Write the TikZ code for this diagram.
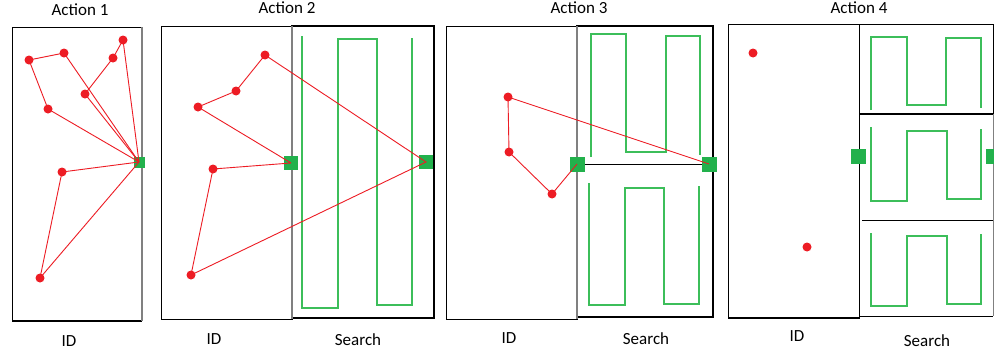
\documentclass[tikz,border=0pt]{standalone}
\usepackage{fontspec}
\setmainfont{Carlito}
\definecolor{pred}{RGB}{237,28,36}
\definecolor{pgreen}{RGB}{34,177,76}
\definecolor{lgreen}{RGB}{60,190,90}
\tikzset{
  dot/.style={circle,fill=pred,draw=none,minimum size=9pt,inner sep=0pt},
  base/.style={rectangle,fill=pgreen,draw=none,minimum size=#1,inner sep=0pt},
  base/.default=13pt,
  path/.style={draw=pred,line width=0.9pt},
  sweep/.style={draw=lgreen,line width=1.3pt},
  frame/.style={draw=black,line width=0.9pt},
  divider/.style={draw=gray,line width=1.3pt},
  lbl/.style={font=\fontsize{17}{20}\selectfont,inner sep=0pt}
}
\begin{document}
\begin{tikzpicture}[x=1pt,y=-1pt]
\useasboundingbox (0,0) rectangle (994,356);
\fill[white] (0,0) rectangle (994,356);

% ---------------- Action 1 ----------------
\node[lbl] (t1) at (80,10) {Action 1};
\draw[frame] (142,27) -- (12,27) -- (12,321);
\draw[frame,line width=1.8pt] (12,321) -- (142,321);
\draw[divider] (142,27) -- (142,321);
\node[lbl] (id1) at (69,341) {ID};
\node[base=11pt] (g1) at (139,162) {};
\node[dot] (a1) at (29,60) {};
\node[dot] (a2) at (64,53) {};
\node[dot] (a3) at (123,40) {};
\node[dot] (a4) at (113,58) {};
\node[dot] (a5) at (85,94) {};
\node[dot] (a6) at (48,109) {};
\node[dot] (a7) at (62,172) {};
\node[dot] (a8) at (40,278) {};
\draw[path] (a1.center) -- (a2.center) -- (g1.center);
\draw[path] (a1.center) -- (a6.center) -- (g1.center);
\draw[path] (a3.center) -- (a4.center) -- (a5.center) -- (g1.center);
\draw[path] (a3.center) -- (g1.center);
\draw[path] (g1.center) -- (a7.center) -- (a8.center) -- (g1.center);

% ---------------- Action 2 ----------------
\node[lbl] (t2) at (287,8) {Action 2};
\draw[frame] (161,26) rectangle (292,319);
\draw[frame,line width=1.6pt] (292,26) rectangle (434,318);
\draw[divider] (292,26) -- (292,319);
\node[lbl] (id2) at (214,339) {ID};
\node[lbl] (s2) at (358,340) {Search};
\draw[sweep] (302,36) -- (302,308) -- (338,308) -- (338,39) -- (377,39)
  -- (377,305) -- (412,305) -- (412,38);
\node[base=14pt] (g2a) at (291,163) {};
\node[base=14pt] (g2b) at (426,162) {};
\node[dot] (b1) at (265,55) {};
\node[dot] (b2) at (236,91) {};
\node[dot] (b3) at (198,107) {};
\node[dot] (b4) at (213,169) {};
\node[dot] (b5) at (191,275) {};
\draw[path] (g2a.center) -- (b3.center) -- (b2.center) -- (b1.center) -- (g2b.center)
  -- (b5.center) -- (b4.center) -- (g2a.center);

% ---------------- Action 3 ----------------
\node[lbl] (t3) at (579,8) {Action 3};
\draw[frame] (446,26) rectangle (577,319);
\draw[frame,line width=1.6pt] (577,26) rectangle (713,317);
\draw[divider] (577,26) -- (577,319);
\draw[frame] (577,164) -- (713,164);
\node[lbl] (id3) at (509,338) {ID};
\node[lbl] (s3) at (646,339) {Search};
\draw[sweep] (591,157) -- (591,34) -- (626,34) -- (626,152) -- (666,152)
  -- (666,36) -- (700,36) -- (700,155);
\draw[sweep] (589,183) -- (589,305) -- (625,305) -- (625,188) -- (664,188)
  -- (664,304) -- (699,304) -- (699,186);
\node[base=15pt] (g3a) at (577,164) {};
\node[base=15pt] (g3b) at (709,164) {};
\node[dot] (c1) at (508,97) {};
\node[dot] (c2) at (509,152) {};
\node[dot] (c3) at (552,194) {};
\draw[path] (g3a.center) -- (c3.center) -- (c2.center) -- (c1.center) -- (g3b.center);

% ---------------- Action 4 ----------------
\node[lbl] (t4) at (859,8) {Action 4};
\draw[frame] (728,24) rectangle (859,318);
\draw[frame,line width=1.6pt] (728,318) -- (859,318);
\draw[frame] (859,24) rectangle (993,114);
\draw[frame,line width=1.3pt] (859,114) -- (993,114);
\draw[frame] (859,114) -- (859,316) -- (993,316);
\draw[draw=gray,line width=0.9pt] (993,114) -- (993,316);
\draw[frame] (862,220) -- (993,220);
\node[lbl] (id4) at (797,336) {ID};
\node[lbl] (s4) at (927,341) {Search};
\draw[sweep] (871,110) -- (871,37) -- (907,37) -- (907,105) -- (946,105)
  -- (946,38) -- (981,38) -- (981,108);
\draw[sweep] (871,127) -- (871,201) -- (907,201) -- (907,131) -- (947,131)
  -- (947,199) -- (981,199) -- (981,129);
\draw[sweep] (871,233) -- (871,306) -- (907,306) -- (907,236) -- (947,236)
  -- (947,304) -- (981,304) -- (981,234);
\node[base=15pt] (g4a) at (858,156) {};
\node[base=15pt] (g4b) at (993,156) {};
\node[dot] (d1) at (753,53) {};
\node[dot] (d2) at (807,247) {};
\end{tikzpicture}
\end{document}
